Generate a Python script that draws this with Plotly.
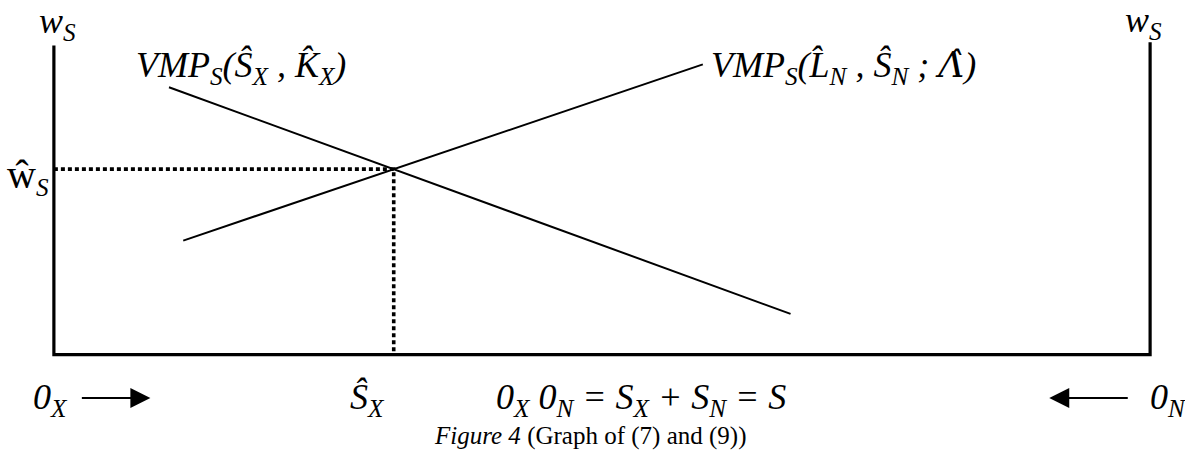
import plotly.graph_objects as go

# ---- data (abstract units: S from 0_X=0 to 0_N=100, wage 0..100) ----
S_total = 100.0
left_axis_top = 100.0
right_axis_top = 101.0

vmp_x_x = [10.5, 67.2]      # VMP_S(S_X, K_X)  (downward sloping)
vmp_x_y = [86.5, 13.2]
vmp_n_x = [11.8, 59.2]      # VMP_S(L_N, S_N; Lambda)  (upward sloping)
vmp_n_y = [36.9, 93.9]

s_hat = 31.0
w_hat = 60.0

FONT = "Liberation Serif"
BIG = 36
CAP = 25

xr = [-3, 103]
yr = [-3, 105]

fig = go.Figure()

# axes box (left, bottom, right)
fig.add_trace(go.Scatter(x=[0, 0, S_total, S_total], y=[left_axis_top, 0, 0, right_axis_top],
                         mode="lines", line=dict(color="black", width=3.2), hoverinfo="skip",
                         cliponaxis=False))
# curves
fig.add_trace(go.Scatter(x=vmp_x_x, y=vmp_x_y, mode="lines",
                         line=dict(color="black", width=2), cliponaxis=False))
fig.add_trace(go.Scatter(x=vmp_n_x, y=vmp_n_y, mode="lines",
                         line=dict(color="black", width=2), cliponaxis=False))
# dotted equilibrium guides
fig.add_trace(go.Scatter(x=[0, s_hat, s_hat], y=[w_hat, w_hat, 0], mode="lines",
                         line=dict(color="black", width=3.6, dash="4px,3px"), cliponaxis=False))

def px(xd):
    return (xd - xr[0]) / (xr[1] - xr[0])

def py(yd):
    return (yd - yr[0]) / (yr[1] - yr[0])

ann = []
def txt(x, y, t, xa="center", ya="middle", size=BIG):
    ann.append(dict(x=px(x), y=py(y), xref="paper", yref="paper", text=t, showarrow=False,
                    xanchor=xa, yanchor=ya, font=dict(family=FONT, size=size, color="black")))

HAT_L = "<span style=\"font-family:'DejaVu Serif'\">\u039b\u0302</span>"

txt(0.3, 107, "<i>w<sub>S</sub></i>")
txt(99.4, 107.5, "<i>w<sub>S</sub></i>")
txt(7.3, 93, "<i>VMP<sub>S</sub>(Ŝ<sub>X</sub> , K\u0302<sub>X</sub>)</i>", xa="left")
txt(59.8, 93, "<i>VMP<sub>S</sub>(L\u0302<sub>N</sub> , Ŝ<sub>N</sub> ; " + HAT_L + ")</i>", xa="left")
txt(-0.3, w_hat - 2.5, "<span style=\"font-size:40px\">ŵ</span><i><sub>S</sub></i>", xa="right")
txt(28.6, -14.5, "<i>Ŝ<sub>X</sub></i>")
txt(-0.3, -14.5, "<i>0<sub>X</sub></i>")
txt(53.6, -14.5, "<i>0<sub>X</sub> 0<sub>N</sub> = S<sub>X</sub> + S<sub>N</sub> = S</i>")
txt(99.8, -14.5, "<i>0<sub>N</sub></i>", xa="left")
txt(48.9, -26.3, "<i>Figure 4</i> (Graph of (7) and (9))", size=CAP)

# direction arrows (head at x, tail offset in pixels)
ann.append(dict(x=px(8.8), y=py(-14.0), xref="paper", yref="paper", ax=-70, ay=0,
                text="", showarrow=True, arrowhead=2, arrowsize=2, arrowwidth=2, arrowcolor="black"))
ann.append(dict(x=px(90.8), y=py(-14.0), xref="paper", yref="paper", ax=80, ay=0,
                text="", showarrow=True, arrowhead=2, arrowsize=2, arrowwidth=2, arrowcolor="black"))

# pixel mapping: x=0 -> 54px, x=100 -> 1150px ; y=0 -> 355px, y=100 -> 45px
kx = (1150 - 54) / 100.0
ky = (355 - 45) / 100.0
ml = 54 + xr[0] * kx
mr = 1185 - (54 + xr[1] * kx)
mt = 355 - yr[1] * ky
mb = 457 - (355 - yr[0] * ky)

fig.update_layout(
    width=1185, height=457, showlegend=False,
    margin=dict(l=ml, r=mr, t=mt, b=mb, pad=0, autoexpand=False),
    paper_bgcolor="white", plot_bgcolor="white",
    xaxis=dict(range=xr, visible=False, fixedrange=True),
    yaxis=dict(range=yr, visible=False, fixedrange=True),
    annotations=ann,
)
fig.write_html("out.html", config={"displayModeBar": False})
